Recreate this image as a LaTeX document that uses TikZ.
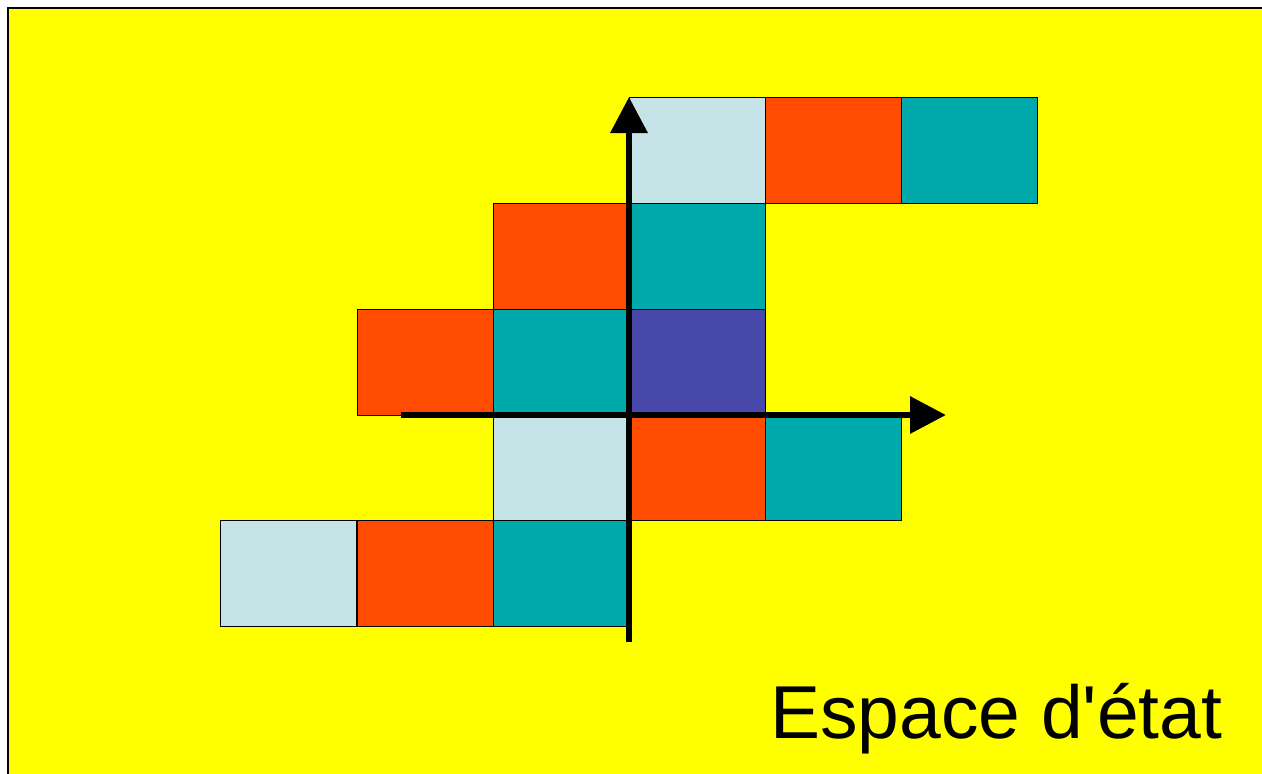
\documentclass[tikz,border=0pt]{standalone}
\usepackage{fontspec}
\setmainfont{Liberation Sans}
\usetikzlibrary{arrows.meta}
\definecolor{bgyellow}{HTML}{FFFF00}
\definecolor{lb}{HTML}{C6E4E8}
\definecolor{tl}{HTML}{00AAAA}
\definecolor{og}{HTML}{FF4C00}
\definecolor{pu}{HTML}{4848AA}
\tikzset{
  cell/.style={draw=black, line width=1pt, minimum width=136pt, minimum height=106pt, inner sep=0pt, anchor=north west, outer sep=0pt},
  axis/.style={line width=6.5pt, -{Triangle[length=36pt,width=36pt]}},
}
\begin{document}
\begin{tikzpicture}[x=1pt,y=-1pt]
\useasboundingbox (0,0) rectangle (1262,774);
\clip (0,0) rectangle (1262,774);
\fill[white] (0,0) rectangle (1262,774);
\draw[line width=2pt, fill=bgyellow] (8,8) rectangle (1280,790);
% row 0
\node[cell, fill=lb] (r0c3) at (629,97) {};
\node[cell, fill=og] (r0c4) at (765,97) {};
\node[cell, fill=tl] (r0c5) at (901,97) {};
% row 1
\node[cell, fill=og] (r1c2) at (493,203) {};
\node[cell, fill=tl] (r1c3) at (629,203) {};
% row 2
\node[cell, fill=og] (r2c1) at (357,309) {};
\node[cell, fill=tl] (r2c2) at (493,309) {};
\node[cell, fill=pu] (r2c3) at (629,309) {};
% row 3
\node[cell, fill=lb] (r3c2) at (493,414) {};
\node[cell, fill=og] (r3c3) at (629,414) {};
\node[cell, fill=tl] (r3c4) at (765,414) {};
% row 4
\node[cell, fill=lb] (r4c0) at (220,520) {};
\node[cell, fill=og] (r4c1) at (357,520) {};
\node[cell, fill=tl] (r4c2) at (493,520) {};
% axes
\coordinate (yb) at (629,642);
\coordinate (yt) at (629,97);
\coordinate (xl) at (401,415);
\coordinate (xr) at (946,415);
\draw[axis] (yb) -- (yt);
\draw[axis] (xl) -- (xr);
\node[anchor=base west, inner sep=0pt, font=\fontsize{75}{90}\selectfont] (lbl) at (770,738) {Espace d\textquotesingle état};
\end{tikzpicture}
\end{document}
